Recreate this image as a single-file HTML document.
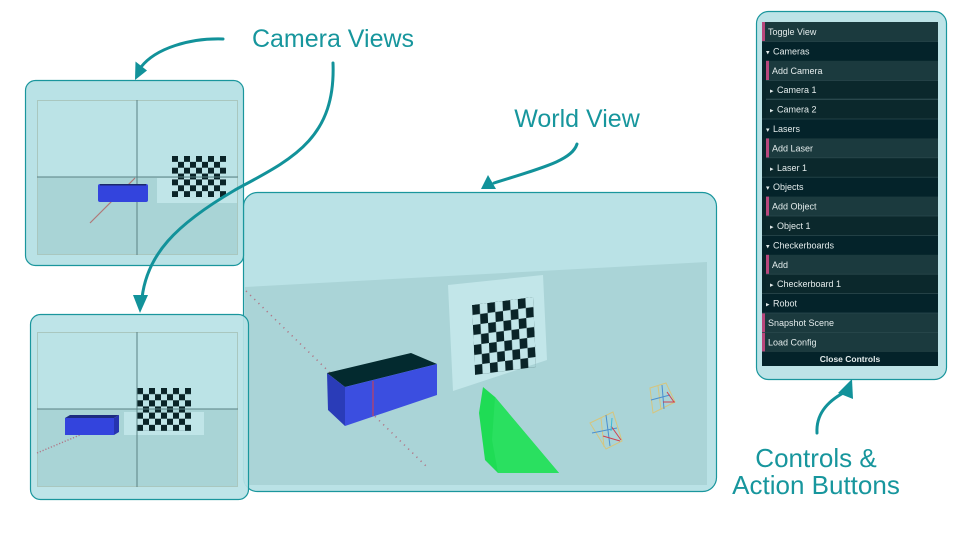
<!DOCTYPE html>
<html><head><meta charset="utf-8"><style>
html,body{margin:0;padding:0;background:#fff;}
svg{display:block;}
text{font-family:"Liberation Sans",sans-serif;}
</style></head><body>
<svg width="960" height="540" viewBox="0 0 960 540" xmlns="http://www.w3.org/2000/svg">
<defs>
<pattern id="ck" width="2" height="2" patternUnits="userSpaceOnUse">
<rect width="1" height="1" fill="#0a2428"/><rect x="1" y="1" width="1" height="1" fill="#0a2428"/>
</pattern>
<clipPath id="wclip"><rect x="243.5" y="192.5" width="473" height="299" rx="14"/></clipPath>
</defs>

<!-- WORLD VIEW PANEL -->
<rect x="243.5" y="192.5" width="473" height="299" rx="14" fill="#bae2e6" stroke="#1a969d" stroke-width="1.2"/>
<g clip-path="url(#wclip)">
<polygon points="245,287 707,262 707,485 245,485" fill="#aad4d7"/>
</g>
<polygon points="448,285 543,275 547,360 453,391" fill="#c2e6e9"/>
<g transform="matrix(7.625,-1,0.43,10,472,305)"><rect width="8" height="7" fill="url(#ck)"/></g>
<line x1="246" y1="291" x2="427" y2="467" stroke="#b07888" stroke-width="1.6" stroke-dasharray="1.2 4.6"/>
<polygon points="327,373 411,353 437,364 345,387" fill="#032a2f"/>
<polygon points="327,373 345,387 345,426 328,410" fill="#2a3cb8"/>
<polygon points="345,387 437,364 437,395 345,426" fill="#3b4ee0"/>
<line x1="373" y1="381" x2="373" y2="416" stroke="#c04060" stroke-width="1.2"/>
<polygon points="483,387 495,397 559,473 498,473 485,460 479,413" fill="#1fdc55"/>
<polygon points="495,397 559,473 498,473 492,440" fill="#2ae060"/>
<!-- camera wireframe 1 -->
<g fill="none" stroke-width="1">
<polygon points="590,423 613,412 622,441 606,449" stroke="#d6c57e"/>
<line x1="601" y1="418" x2="604" y2="447" stroke="#d6c57e"/>
<line x1="592" y1="433" x2="617" y2="428" stroke="#4a8fd0"/>
<line x1="606" y1="415" x2="610" y2="446" stroke="#4a8fd0"/>
<line x1="603" y1="436" x2="620" y2="441" stroke="#d04050"/>
<line x1="611" y1="426" x2="621" y2="440" stroke="#d04050"/>
<line x1="612" y1="418" x2="611" y2="431" stroke="#3ab8d8"/>
</g>
<!-- camera wireframe 2 -->
<g fill="none" stroke-width="1">
<polygon points="650,388 666,383 675,402 653,413" stroke="#d6c57e"/>
<line x1="658" y1="386" x2="661" y2="410" stroke="#d6c57e"/>
<line x1="651" y1="400" x2="670" y2="395" stroke="#4a8fd0"/>
<line x1="662" y1="385" x2="664" y2="409" stroke="#4a8fd0"/>
<line x1="663" y1="402" x2="675" y2="402" stroke="#d04050"/>
<line x1="667" y1="392" x2="674" y2="402" stroke="#d04050"/>
</g>

<!-- TOP-LEFT CAMERA PANEL -->
<rect x="25.5" y="80.5" width="218" height="185" rx="10" fill="#b9e2e6" stroke="#1a969d" stroke-width="1.2"/>
<rect x="37" y="100" width="201" height="77" fill="#bbe3e6"/>
<rect x="37" y="177" width="201" height="78" fill="#a9d4d6"/>
<rect x="37.5" y="100.5" width="200" height="154" fill="none" stroke="#a9c7bf" stroke-width="1"/>
<rect x="157" y="178" width="80" height="25" fill="#c0e5e8"/>
<g transform="translate(172,156) scale(6,5.86)"><rect width="9" height="7" fill="url(#ck)"/></g>
<line x1="137" y1="100" x2="137" y2="255" stroke="#5a8284" stroke-width="1"/>
<line x1="37" y1="177" x2="238" y2="177" stroke="#5a8284" stroke-width="1"/>
<line x1="90" y1="223" x2="135" y2="178" stroke="#b07878" stroke-width="1.2"/>
<rect x="98" y="184" width="50" height="18" rx="2" fill="#3344dd"/>
<rect x="100" y="184" width="46" height="1.5" fill="#1c2a6a"/>

<!-- BOTTOM-LEFT CAMERA PANEL -->
<rect x="30.5" y="314.5" width="218" height="185" rx="10" fill="#b9e2e6" fill-opacity="0.92" stroke="#1a969d" stroke-width="1.2"/>
<rect x="37" y="332" width="201" height="77" fill="#bbe3e6"/>
<rect x="37" y="409" width="201" height="78" fill="#a9d4d6"/>
<rect x="37.5" y="332.5" width="200" height="154" fill="none" stroke="#a9c7bf" stroke-width="1"/>
<rect x="124" y="412" width="80" height="23" fill="#c0e5e8"/>
<g transform="translate(137,388) scale(6,6.14)"><rect width="9" height="7" fill="url(#ck)"/></g>
<line x1="137" y1="332" x2="137" y2="487" stroke="#5a8284" stroke-width="1"/>
<line x1="37" y1="409" x2="238" y2="409" stroke="#5a8284" stroke-width="1"/>
<line x1="37" y1="453" x2="80" y2="435" stroke="#b07888" stroke-width="1.4" stroke-dasharray="1.2 1.8"/>
<polygon points="65,418 70,415 119,415 114,418" fill="#1d2c80"/>
<rect x="65" y="418" width="49" height="17" fill="#3344dd"/>
<polygon points="114,418 119,415 119,432 114,435" fill="#2634b0"/>

<!-- CONTROLS PANEL -->
<rect x="756.5" y="11.5" width="190" height="368" rx="12" fill="#bde3e7" stroke="#1a969d" stroke-width="1.2"/>
<rect x="762" y="22" width="176" height="344" fill="#08262a"/>
<g font-size="9" fill="#e4ecec">
<!-- 0 Toggle View -->
<rect x="762" y="22" width="176" height="19.4" fill="#1b3a3e"/><rect x="762" y="22" width="3" height="19.4" fill="#b8477c"/>
<text x="768" y="35">Toggle View</text>
<!-- 1 Cameras -->
<rect x="762" y="41.4" width="176" height="19.4" fill="#04232a"/>
<text x="766" y="54.4" font-size="7">▾</text><text x="773" y="54.4">Cameras</text>
<!-- 2 Add Camera -->
<rect x="766" y="60.8" width="172" height="19.4" fill="#1b3a3e"/><rect x="766" y="60.8" width="3" height="19.4" fill="#b8477c"/>
<text x="772" y="73.8">Add Camera</text>
<!-- 3 Camera 1 -->
<rect x="766" y="80.2" width="172" height="19.4" fill="#0b282c"/><rect x="766" y="98.6" width="172" height="1" fill="#28464a"/>
<text x="770" y="93.2" font-size="7">▸</text><text x="777" y="93.2">Camera 1</text>
<!-- 4 Camera 2 -->
<rect x="766" y="99.6" width="172" height="19.4" fill="#0b282c"/>
<text x="770" y="112.6" font-size="7">▸</text><text x="777" y="112.6">Camera 2</text>
<!-- 5 Lasers -->
<rect x="762" y="119" width="176" height="19.4" fill="#04232a"/>
<text x="766" y="132" font-size="7">▾</text><text x="773" y="132">Lasers</text>
<!-- 6 Add Laser -->
<rect x="766" y="138.4" width="172" height="19.4" fill="#1b3a3e"/><rect x="766" y="138.4" width="3" height="19.4" fill="#b8477c"/>
<text x="772" y="151.4">Add Laser</text>
<!-- 7 Laser 1 -->
<rect x="766" y="157.8" width="172" height="19.4" fill="#0b282c"/>
<text x="770" y="170.8" font-size="7">▸</text><text x="777" y="170.8">Laser 1</text>
<!-- 8 Objects -->
<rect x="762" y="177.2" width="176" height="19.4" fill="#04232a"/>
<text x="766" y="190.2" font-size="7">▾</text><text x="773" y="190.2">Objects</text>
<!-- 9 Add Object -->
<rect x="766" y="196.6" width="172" height="19.4" fill="#1b3a3e"/><rect x="766" y="196.6" width="3" height="19.4" fill="#b8477c"/>
<text x="772" y="209.6">Add Object</text>
<!-- 10 Object 1 -->
<rect x="766" y="216" width="172" height="19.4" fill="#0b282c"/>
<text x="770" y="229" font-size="7">▸</text><text x="777" y="229">Object 1</text>
<!-- 11 Checkerboards -->
<rect x="762" y="235.4" width="176" height="19.4" fill="#04232a"/>
<text x="766" y="248.4" font-size="7">▾</text><text x="773" y="248.4">Checkerboards</text>
<!-- 12 Add -->
<rect x="766" y="254.8" width="172" height="19.4" fill="#1b3a3e"/><rect x="766" y="254.8" width="3" height="19.4" fill="#b8477c"/>
<text x="772" y="267.8">Add</text>
<!-- 13 Checkerboard 1 -->
<rect x="766" y="274.2" width="172" height="19.4" fill="#0b282c"/>
<text x="770" y="287.2" font-size="7">▸</text><text x="777" y="287.2">Checkerboard 1</text>
<!-- 14 Robot -->
<rect x="762" y="293.6" width="176" height="19.4" fill="#04232a"/>
<text x="766" y="306.6" font-size="7">▸</text><text x="773" y="306.6">Robot</text>
<!-- 15 Snapshot Scene -->
<rect x="762" y="313" width="176" height="19.4" fill="#1b3a3e"/><rect x="762" y="313" width="3" height="19.4" fill="#b8477c"/>
<text x="768" y="326">Snapshot Scene</text>
<!-- 16 Load Config -->
<rect x="762" y="332.4" width="176" height="19.4" fill="#1b3a3e"/><rect x="762" y="332.4" width="3" height="19.4" fill="#b8477c"/>
<text x="768" y="345.4">Load Config</text>
<!-- separators -->
<g fill="#2a484c">
<rect x="762" y="41" width="176" height="0.8"/><rect x="766" y="80" width="172" height="0.8"/>
<rect x="766" y="99.2" width="172" height="0.8"/><rect x="762" y="118.6" width="176" height="0.8"/>
<rect x="766" y="157.4" width="172" height="0.8"/><rect x="762" y="176.8" width="176" height="0.8"/>
<rect x="766" y="215.6" width="172" height="0.8"/><rect x="762" y="235" width="176" height="0.8"/>
<rect x="766" y="273.8" width="172" height="0.8"/><rect x="762" y="293.2" width="176" height="0.8"/>
<rect x="762" y="312.6" width="176" height="0.8"/><rect x="762" y="332" width="176" height="0.8"/>
<rect x="762" y="351.4" width="176" height="0.8"/>
</g>
<!-- Close Controls -->
<rect x="762" y="351.8" width="176" height="14" fill="#04232a"/>
<text x="850" y="362" text-anchor="middle" font-weight="bold" font-size="8.5">Close Controls</text>
</g>

<!-- ANNOTATIONS -->
<g fill="#17969d">
<text x="333" y="47" text-anchor="middle" font-size="25">Camera Views</text>
<text x="577" y="127" text-anchor="middle" font-size="25">World View</text>
<text x="816" y="467" text-anchor="middle" font-size="26">Controls &amp;</text>
<text x="816" y="494" text-anchor="middle" font-size="26">Action Buttons</text>
</g>
<g fill="none" stroke="#12929a" stroke-width="3" stroke-linecap="round">
<path d="M223,39 C190,38 156,48 141,67"/>
<path d="M333,63 C336,140 290,160 235,190 C175,225 147,255 142,298"/>
<path d="M577,144 C572,160 545,167 494,183"/>
<path d="M817,433 C816,415 826,402 845,392"/>
</g>
<g fill="#12929a">
<polygon points="135,80 135.5,61.5 147,70.5"/>
<polygon points="140,313 133,295 148,295"/>
<polygon points="481,189 488,175 496,189"/>
<polygon points="852,379 838,393 853,399"/>
</g>
</svg>
</body></html>
